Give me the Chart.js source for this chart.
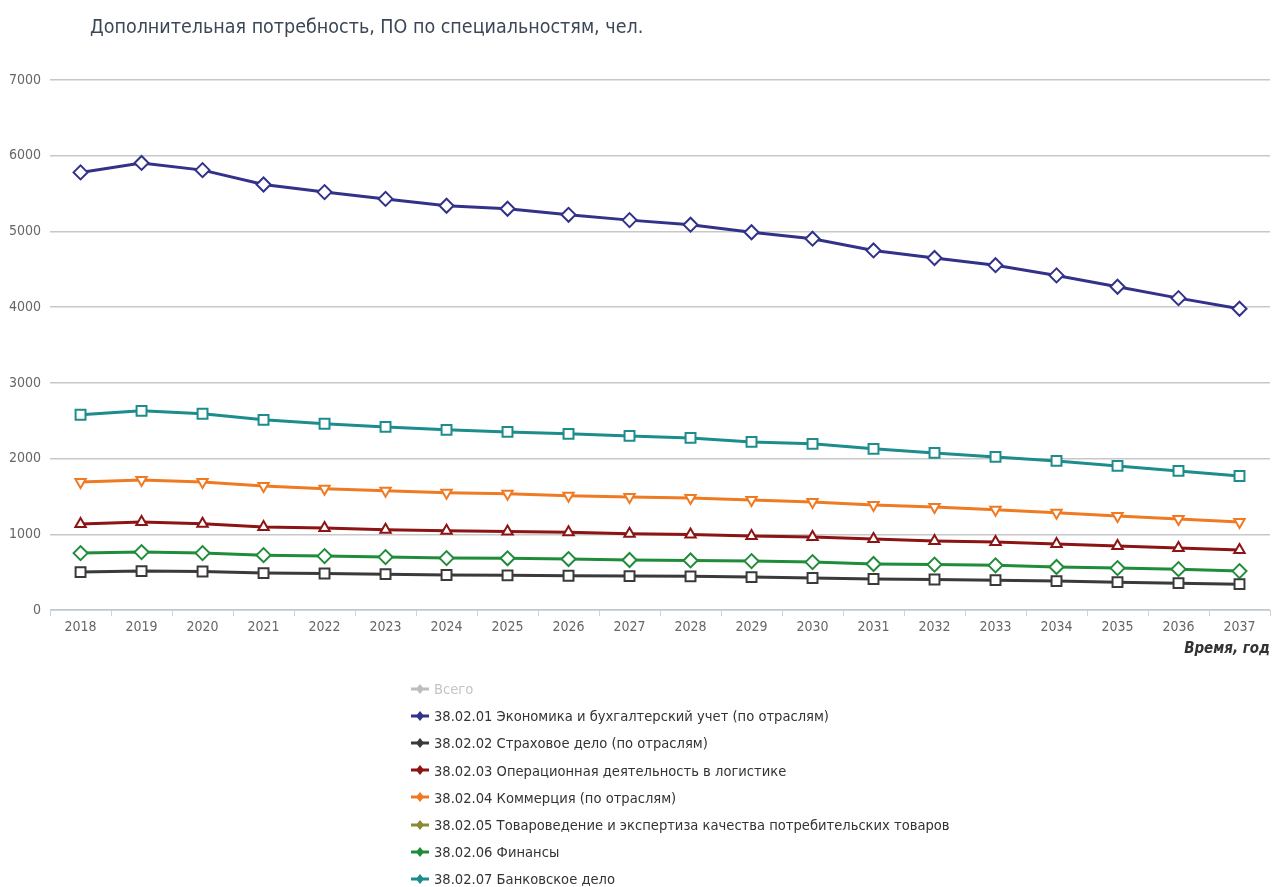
<!DOCTYPE html>
<html>
<head>
<meta charset="utf-8">
<script src="https://cdn.jsdelivr.net/npm/chart.js@4"></script>
<style>
  html, body { margin: 0; background: #fff; overflow: hidden; font-family: "Liberation Sans Narrow", "DejaVu Sans Condensed", sans-serif; }
  #wrap { position: relative; width: 1279px; height: 887px; overflow: hidden; }
  #title { position: absolute; left: 90px; top: 15px; font-size: 19.5px; color: #3b4656; }
  #myChart { position: absolute; left: 0; top: 0; }
  #legend { position: absolute; left: 410px; top: 675px; font-size: 14.6px; color: #333; }
  #legend .row { height: 27.2px; display: flex; align-items: center; }
  #legend canvas { margin-right: 4px; }
</style>
</head>
<body>
<div id="wrap">
  <canvas id="myChart" width="1279" height="658"></canvas>
  <div id="title">Дополнительная потребность, ПО по специальностям, чел.</div>
  <div id="legend"></div>
</div>
<script>
let years = ['2018','2019','2020','2021','2022','2023','2024','2025','2026','2027','2028','2029','2030','2031','2032','2033','2034','2035','2036','2037'];

let names = [
    'Всего',
    '38.02.01 Экономика и бухгалтерский учет (по отраслям)',
    '38.02.02 Страховое дело (по отраслям)',
    '38.02.03 Операционная деятельность в логистике',
    '38.02.04 Коммерция (по отраслям)',
    '38.02.05 Товароведение и экспертиза качества потребительских товаров',
    '38.02.06 Финансы',
    '38.02.07 Банковское дело'
];

let total = [];   // hidden in the picture
let econ = [5780, 5905, 5810, 5620, 5520, 5430, 5340, 5300, 5220, 5150, 5090, 4990, 4905, 4750, 4650, 4555, 4420, 4270, 4120, 3980];
let insur = [503, 516, 510, 490, 485, 476, 465, 460, 455, 450, 447, 437, 425, 412, 405, 397, 384, 370, 357, 344];
let logist = [1138, 1164, 1140, 1098, 1085, 1062, 1050, 1040, 1030, 1010, 1000, 980, 966, 940, 915, 900, 873, 847, 820, 794];
let commerce = [1693, 1720, 1693, 1640, 1605, 1578, 1550, 1536, 1512, 1495, 1481, 1455, 1429, 1389, 1362, 1325, 1285, 1245, 1204, 1164];
let goods = [];   // no line drawn in the picture
let finance = [754, 767, 754, 727, 714, 701, 688, 685, 675, 663, 657, 648, 635, 610, 602, 592, 570, 556, 542, 516];
let bank = [2580, 2632, 2593, 2513, 2462, 2420, 2381, 2354, 2328, 2301, 2275, 2222, 2196, 2130, 2077, 2024, 1971, 1905, 1839, 1772];

let yTicks = [0, 1000, 2000, 3000, 4000, 5000, 6000, 7000];

let colors = ['#bdbdbd', '#32328a', '#3a3a3a', '#8c1414', '#f07a22', '#8c8a33', '#1f8c3a', '#1c8c8c'];
let shapes = ['rectRot', 'rectRot', 'rect', 'triangle', 'triangle', 'circle', 'rectRot', 'rect'];
let series = [total, econ, insur, logist, commerce, goods, finance, bank];

const FONT = '"Liberation Sans Narrow", "DejaVu Sans Condensed", sans-serif';

let datasets = series.map((d, i) => ({
    label: names[i],
    data: d,
    borderColor: colors[i],
    backgroundColor: '#fff',
    borderWidth: 3,
    pointStyle: shapes[i],
    pointRotation: i === 4 ? 180 : 0,
    pointRadius: shapes[i] === 'triangle' ? 6 : 7,
    pointBorderWidth: 2,
    pointBackgroundColor: '#fff',
    pointBorderColor: colors[i],
    tension: 0,
    hidden: i === 0
}));

let chart = new Chart(document.getElementById('myChart').getContext('2d'), {
    type: 'line',
    data: { labels: years, datasets: datasets },
    options: {
        responsive: false,
        animation: false,
        layout: { padding: { top: 80, right: 3, left: 0, bottom: 0 } },
        plugins: {
            legend: { display: false },
            title: { display: false },
            tooltip: { enabled: false }
        },
        scales: {
            x: {
                offset: true,
                afterFit: s => { s.paddingRight = 0; s.paddingLeft = 0; },
                grid: { offset: true, drawOnChartArea: false, drawTicks: true, tickLength: 6, color: '#c5d5e2' },
                border: { color: '#c5d5e2', width: 1 },
                ticks: { color: '#666', font: { family: FONT, size: 14 }, padding: 3 },
                title: {
                    display: true, text: 'Время, год', align: 'end', color: '#333',
                    font: { family: FONT, size: 15, weight: 'bold', style: 'italic' },
                    padding: { top: 1, bottom: 0 }
                }
            },
            y: {
                min: 0, max: 7000,
                afterBuildTicks: axis => { axis.ticks = yTicks.map(v => ({ value: v })); },
                grid: { color: '#c8c8c8', lineWidth: 1.5, drawTicks: false },
                border: { display: false },
                ticks: { color: '#666', font: { family: FONT, size: 14 }, padding: 9, callback: v => String(v) }
            }
        }
    }
});

// simple html legend, one row per series
let legend = document.getElementById('legend');
names.forEach((n, i) => {
    let row = document.createElement('div');
    row.className = 'row';
    let c = document.createElement('canvas');
    c.width = 20; c.height = 14;
    let ctx = c.getContext('2d');
    ctx.strokeStyle = colors[i];
    ctx.lineWidth = 3;
    ctx.beginPath(); ctx.moveTo(1, 7); ctx.lineTo(19, 7); ctx.stroke();
    ctx.fillStyle = colors[i];
    ctx.beginPath(); ctx.moveTo(10, 2); ctx.lineTo(14, 7); ctx.lineTo(10, 12); ctx.lineTo(6, 7); ctx.closePath(); ctx.fill();
    row.appendChild(c);
    let t = document.createElement('span');
    t.textContent = n;
    if (i === 0) t.style.color = '#c4c4c4';
    row.appendChild(t);
    legend.appendChild(row);
});
</script>
</body>
</html>
